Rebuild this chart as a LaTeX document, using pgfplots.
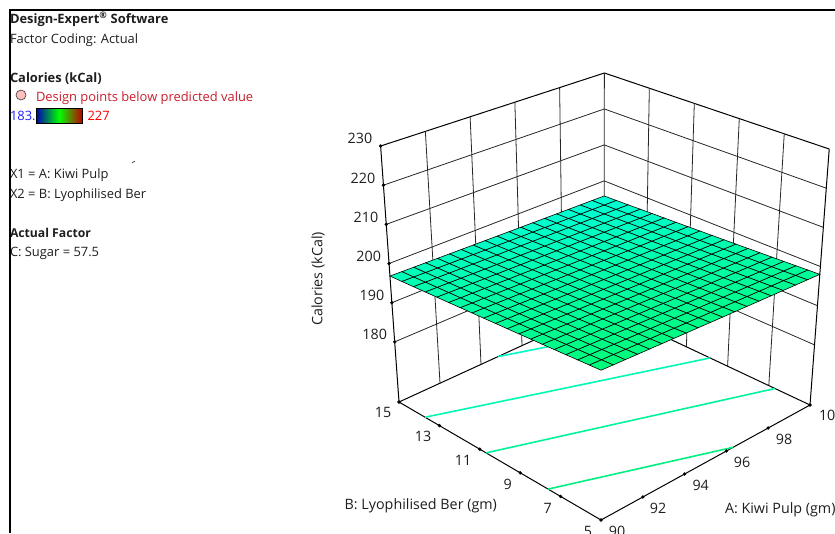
\documentclass[border=0pt]{standalone}
\usepackage{fontspec}
\usepackage{pgfplots}
\usepackage{pgfplotstable}
\pgfplotsset{compat=1.18}
\setmainfont{Open Sans}

% response surface: A (Kiwi Pulp), B (Lyophilised Ber), Z (Calories), 18 cells a side
\pgfplotstableread[row sep=\\]{
A B Z\\
90 5 199.00\\ 90.56 5 198.94\\ 91.11 5 198.89\\ 91.67 5 198.83\\ 92.22 5 198.78\\ 92.78 5 198.72\\ 93.33 5 198.67\\ 93.89 5 198.61\\ 94.44 5 198.56\\ 95 5 198.50\\ 95.56 5 198.44\\ 96.11 5 198.39\\ 96.67 5 198.33\\ 97.22 5 198.28\\ 97.78 5 198.22\\ 98.33 5 198.17\\ 98.89 5 198.11\\ 99.44 5 198.06\\ 100 5 198.00\\
90 5.56 198.88\\ 90.56 5.56 198.82\\ 91.11 5.56 198.77\\ 91.67 5.56 198.71\\ 92.22 5.56 198.66\\ 92.78 5.56 198.60\\ 93.33 5.56 198.55\\ 93.89 5.56 198.49\\ 94.44 5.56 198.44\\ 95 5.56 198.38\\ 95.56 5.56 198.32\\ 96.11 5.56 198.27\\ 96.67 5.56 198.21\\ 97.22 5.56 198.16\\ 97.78 5.56 198.10\\ 98.33 5.56 198.05\\ 98.89 5.56 197.99\\ 99.44 5.56 197.94\\ 100 5.56 197.88\\
90 6.11 198.76\\ 90.56 6.11 198.70\\ 91.11 6.11 198.65\\ 91.67 6.11 198.59\\ 92.22 6.11 198.54\\ 92.78 6.11 198.48\\ 93.33 6.11 198.43\\ 93.89 6.11 198.37\\ 94.44 6.11 198.32\\ 95 6.11 198.26\\ 95.56 6.11 198.20\\ 96.11 6.11 198.15\\ 96.67 6.11 198.09\\ 97.22 6.11 198.04\\ 97.78 6.11 197.98\\ 98.33 6.11 197.93\\ 98.89 6.11 197.87\\ 99.44 6.11 197.82\\ 100 6.11 197.76\\
90 6.67 198.63\\ 90.56 6.67 198.57\\ 91.11 6.67 198.52\\ 91.67 6.67 198.46\\ 92.22 6.67 198.41\\ 92.78 6.67 198.35\\ 93.33 6.67 198.30\\ 93.89 6.67 198.24\\ 94.44 6.67 198.19\\ 95 6.67 198.13\\ 95.56 6.67 198.07\\ 96.11 6.67 198.02\\ 96.67 6.67 197.96\\ 97.22 6.67 197.91\\ 97.78 6.67 197.85\\ 98.33 6.67 197.80\\ 98.89 6.67 197.74\\ 99.44 6.67 197.69\\ 100 6.67 197.63\\
90 7.22 198.51\\ 90.56 7.22 198.45\\ 91.11 7.22 198.40\\ 91.67 7.22 198.34\\ 92.22 7.22 198.29\\ 92.78 7.22 198.23\\ 93.33 7.22 198.18\\ 93.89 7.22 198.12\\ 94.44 7.22 198.07\\ 95 7.22 198.01\\ 95.56 7.22 197.95\\ 96.11 7.22 197.90\\ 96.67 7.22 197.84\\ 97.22 7.22 197.79\\ 97.78 7.22 197.73\\ 98.33 7.22 197.68\\ 98.89 7.22 197.62\\ 99.44 7.22 197.57\\ 100 7.22 197.51\\
90 7.78 198.39\\ 90.56 7.78 198.33\\ 91.11 7.78 198.28\\ 91.67 7.78 198.22\\ 92.22 7.78 198.17\\ 92.78 7.78 198.11\\ 93.33 7.78 198.06\\ 93.89 7.78 198.00\\ 94.44 7.78 197.95\\ 95 7.78 197.89\\ 95.56 7.78 197.83\\ 96.11 7.78 197.78\\ 96.67 7.78 197.72\\ 97.22 7.78 197.67\\ 97.78 7.78 197.61\\ 98.33 7.78 197.56\\ 98.89 7.78 197.50\\ 99.44 7.78 197.45\\ 100 7.78 197.39\\
90 8.33 198.27\\ 90.56 8.33 198.21\\ 91.11 8.33 198.16\\ 91.67 8.33 198.10\\ 92.22 8.33 198.05\\ 92.78 8.33 197.99\\ 93.33 8.33 197.94\\ 93.89 8.33 197.88\\ 94.44 8.33 197.83\\ 95 8.33 197.77\\ 95.56 8.33 197.71\\ 96.11 8.33 197.66\\ 96.67 8.33 197.60\\ 97.22 8.33 197.55\\ 97.78 8.33 197.49\\ 98.33 8.33 197.44\\ 98.89 8.33 197.38\\ 99.44 8.33 197.33\\ 100 8.33 197.27\\
90 8.89 198.14\\ 90.56 8.89 198.08\\ 91.11 8.89 198.03\\ 91.67 8.89 197.97\\ 92.22 8.89 197.92\\ 92.78 8.89 197.86\\ 93.33 8.89 197.81\\ 93.89 8.89 197.75\\ 94.44 8.89 197.70\\ 95 8.89 197.64\\ 95.56 8.89 197.58\\ 96.11 8.89 197.53\\ 96.67 8.89 197.47\\ 97.22 8.89 197.42\\ 97.78 8.89 197.36\\ 98.33 8.89 197.31\\ 98.89 8.89 197.25\\ 99.44 8.89 197.20\\ 100 8.89 197.14\\
90 9.44 198.02\\ 90.56 9.44 197.96\\ 91.11 9.44 197.91\\ 91.67 9.44 197.85\\ 92.22 9.44 197.80\\ 92.78 9.44 197.74\\ 93.33 9.44 197.69\\ 93.89 9.44 197.63\\ 94.44 9.44 197.58\\ 95 9.44 197.52\\ 95.56 9.44 197.46\\ 96.11 9.44 197.41\\ 96.67 9.44 197.35\\ 97.22 9.44 197.30\\ 97.78 9.44 197.24\\ 98.33 9.44 197.19\\ 98.89 9.44 197.13\\ 99.44 9.44 197.08\\ 100 9.44 197.02\\
90 10 197.90\\ 90.56 10 197.84\\ 91.11 10 197.79\\ 91.67 10 197.73\\ 92.22 10 197.68\\ 92.78 10 197.62\\ 93.33 10 197.57\\ 93.89 10 197.51\\ 94.44 10 197.46\\ 95 10 197.40\\ 95.56 10 197.34\\ 96.11 10 197.29\\ 96.67 10 197.23\\ 97.22 10 197.18\\ 97.78 10 197.12\\ 98.33 10 197.07\\ 98.89 10 197.01\\ 99.44 10 196.96\\ 100 10 196.90\\
90 10.56 197.78\\ 90.56 10.56 197.72\\ 91.11 10.56 197.67\\ 91.67 10.56 197.61\\ 92.22 10.56 197.56\\ 92.78 10.56 197.50\\ 93.33 10.56 197.45\\ 93.89 10.56 197.39\\ 94.44 10.56 197.34\\ 95 10.56 197.28\\ 95.56 10.56 197.22\\ 96.11 10.56 197.17\\ 96.67 10.56 197.11\\ 97.22 10.56 197.06\\ 97.78 10.56 197.00\\ 98.33 10.56 196.95\\ 98.89 10.56 196.89\\ 99.44 10.56 196.84\\ 100 10.56 196.78\\
90 11.11 197.66\\ 90.56 11.11 197.60\\ 91.11 11.11 197.55\\ 91.67 11.11 197.49\\ 92.22 11.11 197.44\\ 92.78 11.11 197.38\\ 93.33 11.11 197.33\\ 93.89 11.11 197.27\\ 94.44 11.11 197.22\\ 95 11.11 197.16\\ 95.56 11.11 197.10\\ 96.11 11.11 197.05\\ 96.67 11.11 196.99\\ 97.22 11.11 196.94\\ 97.78 11.11 196.88\\ 98.33 11.11 196.83\\ 98.89 11.11 196.77\\ 99.44 11.11 196.72\\ 100 11.11 196.66\\
90 11.67 197.53\\ 90.56 11.67 197.47\\ 91.11 11.67 197.42\\ 91.67 11.67 197.36\\ 92.22 11.67 197.31\\ 92.78 11.67 197.25\\ 93.33 11.67 197.20\\ 93.89 11.67 197.14\\ 94.44 11.67 197.09\\ 95 11.67 197.03\\ 95.56 11.67 196.97\\ 96.11 11.67 196.92\\ 96.67 11.67 196.86\\ 97.22 11.67 196.81\\ 97.78 11.67 196.75\\ 98.33 11.67 196.70\\ 98.89 11.67 196.64\\ 99.44 11.67 196.59\\ 100 11.67 196.53\\
90 12.22 197.41\\ 90.56 12.22 197.35\\ 91.11 12.22 197.30\\ 91.67 12.22 197.24\\ 92.22 12.22 197.19\\ 92.78 12.22 197.13\\ 93.33 12.22 197.08\\ 93.89 12.22 197.02\\ 94.44 12.22 196.97\\ 95 12.22 196.91\\ 95.56 12.22 196.85\\ 96.11 12.22 196.80\\ 96.67 12.22 196.74\\ 97.22 12.22 196.69\\ 97.78 12.22 196.63\\ 98.33 12.22 196.58\\ 98.89 12.22 196.52\\ 99.44 12.22 196.47\\ 100 12.22 196.41\\
90 12.78 197.29\\ 90.56 12.78 197.23\\ 91.11 12.78 197.18\\ 91.67 12.78 197.12\\ 92.22 12.78 197.07\\ 92.78 12.78 197.01\\ 93.33 12.78 196.96\\ 93.89 12.78 196.90\\ 94.44 12.78 196.85\\ 95 12.78 196.79\\ 95.56 12.78 196.73\\ 96.11 12.78 196.68\\ 96.67 12.78 196.62\\ 97.22 12.78 196.57\\ 97.78 12.78 196.51\\ 98.33 12.78 196.46\\ 98.89 12.78 196.40\\ 99.44 12.78 196.35\\ 100 12.78 196.29\\
90 13.33 197.17\\ 90.56 13.33 197.11\\ 91.11 13.33 197.06\\ 91.67 13.33 197.00\\ 92.22 13.33 196.95\\ 92.78 13.33 196.89\\ 93.33 13.33 196.84\\ 93.89 13.33 196.78\\ 94.44 13.33 196.73\\ 95 13.33 196.67\\ 95.56 13.33 196.61\\ 96.11 13.33 196.56\\ 96.67 13.33 196.50\\ 97.22 13.33 196.45\\ 97.78 13.33 196.39\\ 98.33 13.33 196.34\\ 98.89 13.33 196.28\\ 99.44 13.33 196.23\\ 100 13.33 196.17\\
90 13.89 197.04\\ 90.56 13.89 196.98\\ 91.11 13.89 196.93\\ 91.67 13.89 196.87\\ 92.22 13.89 196.82\\ 92.78 13.89 196.76\\ 93.33 13.89 196.71\\ 93.89 13.89 196.65\\ 94.44 13.89 196.60\\ 95 13.89 196.54\\ 95.56 13.89 196.48\\ 96.11 13.89 196.43\\ 96.67 13.89 196.37\\ 97.22 13.89 196.32\\ 97.78 13.89 196.26\\ 98.33 13.89 196.21\\ 98.89 13.89 196.15\\ 99.44 13.89 196.10\\ 100 13.89 196.04\\
90 14.44 196.92\\ 90.56 14.44 196.86\\ 91.11 14.44 196.81\\ 91.67 14.44 196.75\\ 92.22 14.44 196.70\\ 92.78 14.44 196.64\\ 93.33 14.44 196.59\\ 93.89 14.44 196.53\\ 94.44 14.44 196.48\\ 95 14.44 196.42\\ 95.56 14.44 196.36\\ 96.11 14.44 196.31\\ 96.67 14.44 196.25\\ 97.22 14.44 196.20\\ 97.78 14.44 196.14\\ 98.33 14.44 196.09\\ 98.89 14.44 196.03\\ 99.44 14.44 195.98\\ 100 14.44 195.92\\
90 15 196.80\\ 90.56 15 196.74\\ 91.11 15 196.69\\ 91.67 15 196.63\\ 92.22 15 196.58\\ 92.78 15 196.52\\ 93.33 15 196.47\\ 93.89 15 196.41\\ 94.44 15 196.36\\ 95 15 196.30\\ 95.56 15 196.24\\ 96.11 15 196.19\\ 96.67 15 196.13\\ 97.22 15 196.08\\ 97.78 15 196.02\\ 98.33 15 195.97\\ 98.89 15 195.91\\ 99.44 15 195.86\\ 100 15 195.80\\
}\surfdata

% box in picture pixels: ticks are evenly spaced along every edge, so bilinear
\newcommand\pU{((\thisrow{A}-90)/10)}
\newcommand\pV{((\thisrow{B}-5)/10)}
\newcommand\pW{((\thisrow{Z}-164.65)/65.35)}
\newcommand\pFx{(601+209*\pU-202*\pV-4*\pU*\pV)}
\newcommand\pFy{(520-115*\pU-118*\pV+21*\pU*\pV)}
\newcommand\pH{(285-29*\pU-29*\pV+8*\pU*\pV)}
\pgfplotsset{
  table/proj/.style={
    x expr={\pFx+\pW*0.0915*(\pFx-600)},
    y expr={\pFy-\pW*\pH},
    row sep=\\},
  colormap={surfmap}{
    rgb255(0cm)=(0,0,255);
    rgb255(2.778cm)=(0,255,215);
    rgb255(3.519cm)=(0,252,120);
    rgb255(5cm)=(0,255,0);
    rgb255(7.5cm)=(255,255,0);
    rgb255(10cm)=(255,0,0)}
}
\newcommand\wall[1]{\addplot[black!85,line width=0.8pt] table[proj]{A B Z\\ #1};}
\newcommand\edge[1]{\addplot[black,line width=1pt] table[proj]{A B Z\\ #1};}
\newcommand\contour[2]{\addplot[color=#1,line width=1.6pt] table[proj]{A B Z\\ #2};}

\definecolor{ptred}{RGB}{200,30,45}
\definecolor{lblue}{RGB}{30,30,255}
\definecolor{txt}{RGB}{30,30,30}
\definecolor{c1}{RGB}{0,240,130}
\definecolor{c2}{RGB}{0,245,155}
\definecolor{c3}{RGB}{0,250,180}
\definecolor{c4}{RGB}{0,250,200}
\tikzset{
  panel/.style={anchor=base west, inner sep=0pt, outer sep=0pt, font=\fontsize{12.9}{14}\selectfont},
  lab/.style={inner sep=0pt, outer sep=0pt, text=txt, font=\fontsize{14.3}{16}\selectfont}
}
\newcommand\tl[3]{\node[lab,anchor=center] at (axis cs:#1,#2) {#3};}
\newcommand\lt[3]{\node[panel,text=txt] at (axis cs:#1,#2) {#3};}
\newcommand\axl[3]{\node[lab,anchor=base west] at (axis cs:#1,#2) {#3};}

\begin{document}
\begin{tikzpicture}
\useasboundingbox (0,0) rectangle (835pt,533pt);
\begin{axis}[
    at={(0,0)}, anchor=south west,
    width=835pt, height=533pt, scale only axis,
    xmin=0, xmax=835, ymin=0, ymax=533, y dir=reverse,
    hide axis, clip=true,
    colormap name=surfmap, point meta min=183.8, point meta max=227,
  ]
  % text panel
  \lt{10}{23}{\textbf{Design-Expert\textsuperscript{®} Software}}
  \lt{10}{43}{Factor Coding: Actual}
  \lt{10}{82}{\textbf{Calories (kCal)}}
  \node[panel,text=ptred] at (axis cs:36,101) {Design points below predicted value};
  \node[panel,text=lblue] at (axis cs:10,120) {183.8};
  \node[panel,text=red] at (axis cs:87.5,120) {227};
  \lt{10}{178}{X1 = A: Kiwi Pulp}
  \lt{10}{198}{X2 = B: Lyophilised Ber}
  \lt{10}{237}{\fontsize{12.2}{14}\selectfont\textbf{Actual Factor}}
  \lt{10}{256}{C: Sugar = 57.5}
  \shade[left color=blue!70!black, right color=red!75!black, middle color=green]
    (axis cs:36,108) rectangle (axis cs:82,123);
  \draw[black,line width=0.8pt] (axis cs:36,108) rectangle (axis cs:82,123);
  \addplot[only marks, mark=*, mark size=5pt, mark options={fill=red!25, draw=black!80, line width=0.6pt}]
    coordinates {(21,95)};
  \addplot[black, line width=0.5pt] coordinates {(132,163) (135,161)};

  % frame
  \addplot[black, line width=2pt] coordinates {(9.5,533) (9.5,9.5) (835,9.5)};

  % back walls
  \wall{90 15 180\\ 100 15 180\\ 100 5 180\\}
  \wall{90 15 190\\ 100 15 190\\ 100 5 190\\}
  \wall{90 15 200\\ 100 15 200\\ 100 5 200\\}
  \wall{90 15 210\\ 100 15 210\\ 100 5 210\\}
  \wall{90 15 220\\ 100 15 220\\ 100 5 220\\}
  \edge{90 15 230\\ 100 15 230\\ 100 5 230\\}
  \wall{92 15 164.65\\ 92 15 230\\}
  \wall{94 15 164.65\\ 94 15 230\\}
  \wall{96 15 164.65\\ 96 15 230\\}
  \wall{98 15 164.65\\ 98 15 230\\}
  \wall{100 15 164.65\\ 100 15 230\\}
  \wall{100 13 164.65\\ 100 13 230\\}
  \wall{100 11 164.65\\ 100 11 230\\}
  \wall{100 9 164.65\\ 100 9 230\\}
  \wall{100 7 164.65\\ 100 7 230\\}
  \edge{90 15 164.65\\ 90 15 230\\}
  \edge{100 5 164.65\\ 100 5 230\\}

  % floor and contours of the model on it
  \edge{90 15 164.65\\ 100 15 164.65\\ 100 5 164.65\\ 90 5 164.65\\ 90 15 164.65\\}
  \contour{c1}{90 7.62 164.65\\ 96.32 5 164.65\\}
  \contour{c2}{90 10.69 164.65\\ 100 6.7 164.65\\}
  \contour{c3}{90 13.71 164.65\\ 100 9.85 164.65\\}
  \contour{c4}{94.83 15 164.65\\ 100 13 164.65\\}

  % surface
  \addplot[surf, shader=faceted, faceted color=black, line width=0.6pt,
    mesh/rows=19, mesh/cols=19, point meta=\thisrow{Z}]
    table[proj]{\surfdata};

  % tick dots
  \addplot[only marks, mark=*, mark size=1.5pt, black] table[proj]{
    A B Z\\ 90 15 180\\ 90 15 190\\ 90 15 200\\ 90 15 210\\ 90 15 220\\ 90 15 230\\
    90 15 164.65\\ 90 13 164.65\\ 90 11 164.65\\ 90 9 164.65\\ 90 7 164.65\\ 90 5 164.65\\
    92 5 164.65\\ 94 5 164.65\\ 96 5 164.65\\ 98 5 164.65\\ 100 5 164.65\\};

  % axis labels
  \tl{360}{138.3}{230} \tl{363}{178}{220} \tl{366}{217}{210}
  \tl{368.7}{256}{200} \tl{372}{295}{190} \tl{374.7}{334}{180}
  \tl{383}{412}{15} \tl{423}{436}{13} \tl{463}{460}{11} \tl{507.7}{484}{9} \tl{547.7}{508}{7} \tl{588}{531}{5}
  \tl{617}{531}{90} \tl{658}{508}{92} \tl{700.7}{485}{94} \tl{742}{462}{96} \tl{784}{439}{98}
  \axl{819}{420}{100}
  \axl{344.7}{509}{B: Lyophilised Ber (gm)}
  \axl{725}{513}{A: Kiwi Pulp (gm)}
  \node[lab,rotate=90,anchor=center] at (axis cs:318,279) {Calories (kCal)};
\end{axis}
\end{tikzpicture}
\end{document}
